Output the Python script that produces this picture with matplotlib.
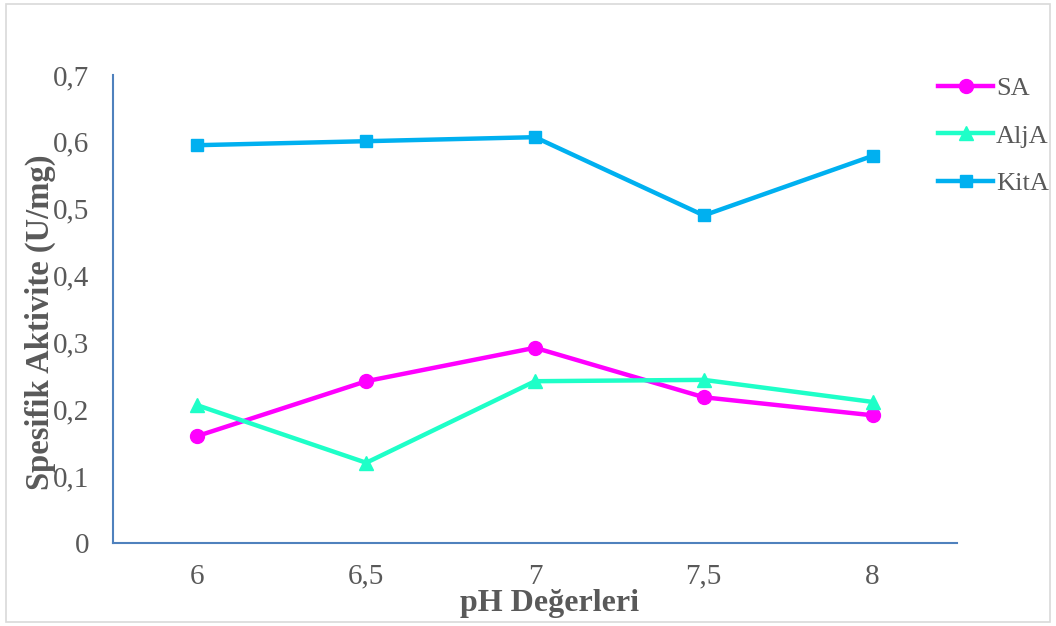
import matplotlib
matplotlib.use("Agg")
import matplotlib.pyplot as plt
from matplotlib.patches import Rectangle

categories = ["6", "6,5", "7", "7,5", "8"]
sa = [0.160, 0.242, 0.292, 0.218, 0.191]
alja = [0.206, 0.120, 0.242, 0.244, 0.211]
kita = [0.595, 0.601, 0.607, 0.490, 0.579]
yticks = [0, 0.1, 0.2, 0.3, 0.4, 0.5, 0.6, 0.7]
ytick_labels = ["0", "0,1", "0,2", "0,3", "0,4", "0,5", "0,6", "0,7"]

plt.rcParams['font.family'] = ['Liberation Serif', 'DejaVu Serif']
gray = "#595959"

fig = plt.figure(figsize=(10.56, 6.26), dpi=100)
fig.patches.append(Rectangle((6/1056, 4/626), 1044/1056, 618/626, transform=fig.transFigure,
                             fill=False, edgecolor="#d9d9d9", linewidth=1.2))
ax = fig.add_axes([113/1056, 1-543/626, (957-113)/1056, (543-75)/626])

x = list(range(len(categories)))
ax.plot(x, sa, color="#FF00FF", lw=3.2, marker="o", ms=10, label="SA")
ax.plot(x, alja, color="#1EFFC8", lw=3.2, marker="^", ms=10, label="AljA")
ax.plot(x, kita, color="#00B0F0", lw=3.2, marker="s", ms=9, label="KitA")

ax.set_xlim(-0.5, len(categories) - 0.5)
ax.set_ylim(0, 0.7)
ax.set_xticks(x)
ax.set_xticklabels(categories)
ax.set_yticks(yticks)
ax.set_yticklabels(ytick_labels)
ax.tick_params(axis='both', length=0, labelsize=21, colors=gray)
ax.tick_params(axis='x', pad=15)
ax.tick_params(axis='y', pad=17)
for s in ["top", "right"]:
    ax.spines[s].set_visible(False)
for s in ["left", "bottom"]:
    ax.spines[s].set_color("#4F81BD")
    ax.spines[s].set_linewidth(1.5)

fig.text(40/1056, 1-322/626, "Spesifik Aktivite (U/mg)", rotation=90, fontsize=23.5,
         fontweight="bold", color=gray, ha="center", va="center")
fig.text(550/1056, 1-603/626, "pH Değerleri", fontsize=23,
         fontweight="bold", color=gray, ha="center", va="center")

leg = ax.legend(loc="upper left", bbox_to_anchor=(938/1056, 1-77/626), bbox_transform=fig.transFigure,
                frameon=False, fontsize=19, handlelength=2.1, labelspacing=0.9,
                handletextpad=0.1, borderaxespad=0, borderpad=0)
for t in leg.get_texts():
    t.set_color(gray)

fig.savefig("out.png", dpi=100)
